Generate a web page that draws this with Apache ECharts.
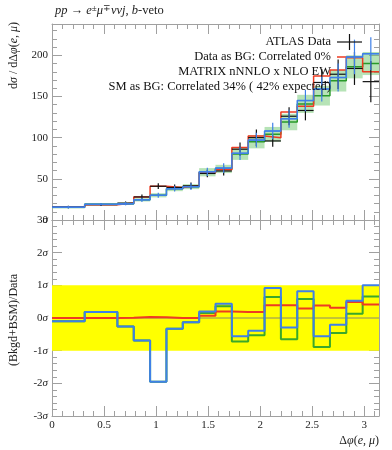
<!DOCTYPE html>
<html>
<head>
<meta charset="utf-8">
<script src="https://cdn.jsdelivr.net/npm/echarts@6/dist/echarts.min.js"></script>
<style>html,body{margin:0;padding:0;background:#fff}#c{width:392px;height:450px}</style>
</head>
<body>
<div id="c"></div>
<script>
// ---- data ----
const binEdges = [0, 2, 4, 5, 6, 7, 8, 9, 10, 11, 12, 13, 14, 15, 16, 17, 18, 19, 20]; // in units of pi/20
const dataVals  = [15.8, 18.5, 20.5, 28, 41, 39.5, 41.5, 56.5, 59.5, 86, 100, 96, 126, 133, 167, 177, 184, 168];
const dataErr   = [1.5, 1.5, 2, 3, 3.5, 3.5, 4, 4.5, 5.5, 8, 10, 7, 11, 12, 16, 18, 20, 25];
const redVals   = [15.8, 18.5, 20.5, 28, 41, 39.5, 41.5, 57.5, 61, 88, 102, 100, 131, 138, 175, 182, 197, 180];
const greenVals = [15.6, 19, 19.8, 24.5, 30, 38, 40.5, 58, 62, 80, 95, 104, 119, 141, 151, 169, 186, 190];
const greenErr  = [1.5, 1.5, 1.5, 2, 2.5, 3, 3, 5, 5, 7, 8, 9, 10, 11, 12, 13, 14, 14];
const blueVals  = [15.6, 19, 19.8, 24.5, 30, 38, 40.5, 58.5, 63, 81, 97, 108, 123, 145, 159, 173, 198, 202];
const blueErr   = [1.5, 1.5, 2, 2.5, 3, 3.5, 4, 5, 6, 8, 9, 10, 11, 13, 15, 17, 21, 20];
const pullRed   = [0, 0, 0.01, 0.03, 0.02, 0, 0, 0.07, 0.2, 0.18, 0.18, 0.39, 0.39, 0.29, 0.38, 0.31, 0.49, 0.41];
const pullGreen = [-0.1, 0.18, -0.26, -0.69, -1.95, -0.33, -0.13, 0.15, 0.36, -0.72, -0.53, 0.64, -0.65, 0.58, -0.89, -0.46, 0.13, 0.66];
const pullBlue  = [-0.1, 0.18, -0.26, -0.69, -1.95, -0.33, -0.13, 0.2, 0.44, -0.56, -0.39, 0.92, -0.29, 0.82, -0.56, -0.21, 0.53, 1.0];
const xTickLabels = ['0', '0.5', '1', '1.5', '2', '2.5', '3'];
const topYMax = 238;
const sigmaBand = [-1, 1];

// ---- helpers ----
const PI = Math.PI;
const edges = binEdges.map(e => e * PI / 20);
const FONT = 'Liberation Serif';
const AX = '#a0a0a0';
const RED = '#ee3b22', GREEN = '#2a9a2a', BLUE = '#3f80e8';

function stepPts(vals) {
  const pts = [];
  vals.forEach((v, i) => { pts.push([edges[i], v]); pts.push([edges[i + 1], v]); });
  return pts;
}
function binItems(vals, errs) {
  return vals.map((v, i) => [edges[i], edges[i + 1], v, errs ? errs[i] : 0]);
}
function crossRender(color, w) {
  return function (params, api) {
    const lo = api.value(0), hi = api.value(1), v = api.value(2), e = api.value(3);
    const c = (lo + hi) / 2;
    const a = api.coord([c, v - e]), b = api.coord([c, v + e]);
    const l = api.coord([lo, v]), r = api.coord([hi, v]);
    return { type: 'group', children: [
      { type: 'line', shape: { x1: a[0], y1: a[1], x2: b[0], y2: b[1] }, style: { stroke: color, lineWidth: w } },
      { type: 'line', shape: { x1: l[0], y1: l[1], x2: r[0], y2: r[1] }, style: { stroke: color, lineWidth: w } }
    ]};
  };
}
function bandRender(fill) {
  return function (params, api) {
    const lo = api.value(0), hi = api.value(1), v = api.value(2), e = api.value(3);
    const p1 = api.coord([lo, v + e]), p2 = api.coord([hi, v - e]);
    return { type: 'rect', shape: { x: p1[0], y: p1[1], width: p2[0] - p1[0], height: p2[1] - p1[1] }, style: { fill } };
  };
}

function xAxesFor(g, labels) {
  const base = { gridIndex: g, type: 'value', min: 0, max: PI, splitLine: { show: false } };
  const major = (pos, lab) => Object.assign({}, base, {
    position: pos, interval: 0.5,
    axisLine: { show: true, onZero: false, lineStyle: { color: AX, width: 1 } },
    axisTick: { show: true, inside: true, length: 10, lineStyle: { color: AX } },
    axisLabel: { show: lab, showMaxLabel: false, margin: 4, color: '#222', fontFamily: FONT, fontSize: 11,
      formatter: v => { const i = Math.round(v * 2); return (Math.abs(v * 2 - i) < 1e-6 && i < xTickLabels.length) ? xTickLabels[i] : ''; } }
  });
  const minor = (pos) => Object.assign({}, base, {
    position: pos, interval: 0.1,
    axisLine: { show: false, onZero: false },
    axisTick: { show: true, inside: true, length: 5, lineStyle: { color: AX } },
    axisLabel: { show: false }
  });
  return [major('bottom', labels), minor('bottom'), major('top', false), minor('top')];
}
function yAxesFor(g, min, max, interval, minorInterval, fmt) {
  const base = { gridIndex: g, type: 'value', min, max, splitLine: { show: false } };
  const major = (pos, lab) => Object.assign({}, base, {
    position: pos, interval,
    axisLine: { show: true, onZero: false, lineStyle: { color: AX, width: 1 } },
    axisTick: { show: true, inside: true, length: 10, lineStyle: { color: AX } },
    axisLabel: { show: lab, showMaxLabel: g === 1, margin: 4, color: '#222', fontFamily: FONT, fontSize: 11, formatter: fmt,
      rich: { n: { fontFamily: FONT, fontSize: 11, color: '#222' }, s: { fontFamily: FONT, fontSize: 11, fontStyle: 'italic', color: '#222' } } }
  });
  const minor = (pos) => Object.assign({}, base, {
    position: pos, interval: minorInterval,
    axisLine: { show: false, onZero: false },
    axisTick: { show: true, inside: true, length: 5, lineStyle: { color: AX } },
    axisLabel: { show: false }
  });
  return [major('left', true), minor('left'), major('right', false), minor('right')];
}

const chart = echarts.init(document.getElementById('c'), null, { renderer: 'canvas' });

const lineS = (name, vals, color, xi, yi, w, z) => ({
  name, type: 'line', xAxisIndex: xi, yAxisIndex: yi, data: stepPts(vals), showSymbol: false, symbol: 'none',
  lineStyle: { color, width: w }, itemStyle: { color }, z, animation: false, silent: true
});

const LF = '12.5px ' + FONT;
const option = {
  animation: false,
  grid: [
    { left: 52, right: 13, top: 24, height: 196 },
    { left: 52, right: 13, top: 220, height: 196 }
  ],
  xAxis: [].concat(xAxesFor(0, false), xAxesFor(1, true)),
  yAxis: [].concat(
    yAxesFor(0, 0, topYMax, 50, 10, v => String(v)),
    yAxesFor(1, -3, 3, 1, 0.2, v => '{n|' + String(Math.round(v)) + '}{s|σ}')
  ),
  series: [
    // top panel
    { type: 'custom', xAxisIndex: 0, yAxisIndex: 0, data: binItems(greenVals, greenErr), renderItem: bandRender('rgba(110,200,110,0.5)'), z: 1, silent: true },
    lineS('MATRIX', greenVals, GREEN, 0, 0, 1.5, 2),
    lineS('DataBG', redVals, RED, 0, 0, 1.5, 3),
    { type: 'custom', xAxisIndex: 0, yAxisIndex: 0, data: binItems(dataVals, dataErr), renderItem: crossRender('#111', 1.2), z: 4, silent: true },
    lineS('SMBG', blueVals, BLUE, 0, 0, 1.5, 5),
    { type: 'custom', xAxisIndex: 0, yAxisIndex: 0, data: binItems(blueVals, blueErr), renderItem: crossRender(BLUE, 1.2), z: 6, silent: true },
    // bottom panel
    { type: 'custom', xAxisIndex: 4, yAxisIndex: 4, data: [[0, PI, sigmaBand[0], sigmaBand[1]]],
      renderItem: function (params, api) {
        const p1 = api.coord([api.value(0), api.value(3)]), p2 = api.coord([api.value(1), api.value(2)]);
        return { type: 'rect', shape: { x: p1[0], y: p1[1], width: p2[0] - p1[0], height: p2[1] - p1[1] }, style: { fill: '#ffff00' } };
      }, z: 1, silent: true },
    { type: 'line', xAxisIndex: 4, yAxisIndex: 4, data: [[0, 0], [PI, 0]], symbol: 'none', lineStyle: { color: '#8a8a6a', width: 1 }, z: 2, silent: true },
    lineS('pullG', pullGreen, '#3aa82a', 4, 4, 2, 3),
    lineS('pullR', pullRed, RED, 4, 4, 2, 4),
    lineS('pullB', pullBlue, BLUE, 4, 4, 2, 5)
  ],
  graphic: [
    { type: 'text', left: 55, top: 4, style: {
      text: '{i|pp} → {i|e}{sup|±}{i|μ}{sup|∓}{i|ννj}, {i|b}-veto',
      font: '12.5px ' + FONT, fill: '#222',
      rich: { i: { fontStyle: 'italic', fontSize: 12.5, fontFamily: FONT, fill: '#222' }, sup: { fontSize: 9, fontFamily: FONT, verticalAlign: 'top', fill: '#222' } }
    }},
    { type: 'text', x: 14, y: 22, rotation: PI / 2, style: {
      text: 'd{i|σ} / dΔ{i|φ}({i|e}, {i|μ})', align: 'right', verticalAlign: 'middle',
      font: '12px ' + FONT, fill: '#222', rich: { i: { fontStyle: 'italic', fontSize: 12, fontFamily: FONT, fill: '#222' } }
    }},
    { type: 'text', x: 14, y: 320, rotation: PI / 2, style: {
      text: '(Bkgd+BSM)/Data', align: 'center', verticalAlign: 'middle', font: '12px ' + FONT, fill: '#222'
    }},
    { type: 'text', x: 379, y: 441, style: {
      text: 'Δ{i|φ}({i|e}, {i|μ})', align: 'right', verticalAlign: 'middle',
      font: '12px ' + FONT, fill: '#222', rich: { i: { fontStyle: 'italic', fontSize: 12, fontFamily: FONT, fill: '#222' } }
    }},
    // legend
    { type: 'text', x: 331, y: 42, z: 20, style: { text: 'ATLAS Data', align: 'right', verticalAlign: 'middle', font: LF, fill: '#111' } },
    { type: 'line', z: 20, shape: { x1: 337, y1: 42, x2: 362, y2: 42 }, style: { stroke: '#111', lineWidth: 1.2 } },
    { type: 'line', z: 20, shape: { x1: 349.5, y1: 34, x2: 349.5, y2: 50 }, style: { stroke: '#111', lineWidth: 1.2 } },
    { type: 'text', x: 331, y: 57, z: 20, style: { text: 'Data as BG: Correlated 0%', align: 'right', verticalAlign: 'middle', font: LF, fill: '#111' } },
    { type: 'line', z: 1, shape: { x1: 337, y1: 57, x2: 362, y2: 57 }, style: { stroke: RED, lineWidth: 1.5 } },
    { type: 'text', x: 331, y: 72, z: 20, style: { text: 'MATRIX nNNLO x NLO EW', align: 'right', verticalAlign: 'middle', font: LF, fill: '#111' } },
    { type: 'text', x: 331, y: 87, z: 20, style: { text: 'SM as BG: Correlated 34% ( 42% expected)', align: 'right', verticalAlign: 'middle', font: LF, fill: '#111' } }
  ]
};
chart.setOption(option);
</script>
</body>
</html>
